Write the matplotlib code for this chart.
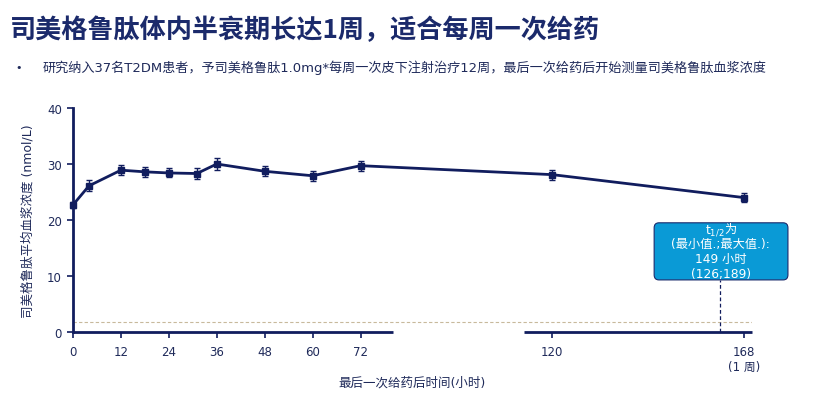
import matplotlib
matplotlib.use("Agg")
import matplotlib.pyplot as plt
from matplotlib.patches import FancyBboxPatch

plt.rcParams['font.family'] = ['DejaVu Sans', 'Noto Sans CJK SC']
plt.rcParams['mathtext.fontset'] = 'dejavusans'

# data
hours = [0, 4, 12, 18, 24, 31, 36, 48, 60, 72, 120, 168]
conc = [22.7, 26.1, 28.9, 28.6, 28.4, 28.3, 30.0, 28.7, 27.9, 29.7, 28.1, 24.0]
err = [0.6, 1.0, 0.9, 0.9, 0.8, 0.9, 1.0, 0.9, 0.9, 0.9, 0.9, 0.8]
xticks = [0, 12, 24, 36, 48, 60, 72, 120, 168]
xticklabels = ['0', '12', '24', '36', '48', '60', '72', '120', '168\n(1 周)']
yticks = [0, 10, 20, 30, 40]
lloq = 1.8
t_half_x = 162

navy = '#111d5e'
text_navy = '#1f2a5a'
box_blue = '#0a9ad6'

fig = plt.figure(figsize=(8.17, 4.06), dpi=100)
ax = fig.add_axes([73 / 817, 1 - 333 / 406, 679 / 817, 224 / 406])

# title and bullet line
fig.text(10 / 817, 1 - 31 / 406, '司美格鲁肽体内半衰期长达1周，适合每周一次给药',
         fontsize=18.8, fontweight='bold', color='#1b2a6b', va='center', ha='left',
         family=['Noto Sans CJK SC', 'DejaVu Sans'])
fig.text(15 / 817, 1 - 68 / 406, '•', fontsize=8, color=text_navy, va='center')
fig.text(43 / 817, 1 - 68 / 406,
         '研究纳入37名T2DM患者，予司美格鲁肽1.0mg*每周一次皮下注射治疗12周，最后一次给药后开始测量司美格鲁肽血浆浓度',
         fontsize=9.45, color=text_navy, va='center', ha='left')

# lower limit line and the half-life marker
ax.axhline(lloq, color='#c8b99c', lw=0.8, ls=(0, (3, 2)))
ax.plot([t_half_x, t_half_x], [0, 9.2], color=navy, lw=0.9, ls=(0, (3, 2)))

ax.errorbar(hours, conc, yerr=err, color=navy, lw=2.0, marker='s', ms=5,
            ecolor=navy, elinewidth=1.0, capsize=2.5, capthick=1.0, clip_on=False, zorder=5)

box = FancyBboxPatch((145.5, 9.3), 33.5, 10.2, boxstyle='round,pad=0,rounding_size=1.2',
                     mutation_aspect=10.2 / 33.5 * 2.5,
                     fc=box_blue, ec='#1a2a6c', lw=0.8, clip_on=False, zorder=6)
ax.add_patch(box)
# first line: subscript part in mathtext, CJK part as plain text
ax.text(163.0, 17.8, r't$_{1/2}$', color='white', fontsize=8.8,
        ha='right', va='baseline', zorder=7, clip_on=False)
ax.text(163.0, 17.8, '为', color='white', fontsize=8.8,
        ha='left', va='baseline', zorder=7, clip_on=False)
box_lines = ['(最小值.;最大值.):', '149 小时', '(126;189)']
for i, line in enumerate(box_lines):
    ax.text(162.2, 18.45 - (i + 1) * 2.68, line, color='white', fontsize=8.8,
            ha='center', va='center', zorder=7, clip_on=False)

ax.set_xlim(0, 170)
ax.set_ylim(0, 40)
ax.set_xticks(xticks)
ax.set_xticklabels(xticklabels)
ax.set_yticks(yticks)

for s in ['top', 'right', 'bottom']:
    ax.spines[s].set_visible(False)
ax.spines['left'].set_color(navy)
ax.spines['left'].set_linewidth(2)

# broken x axis line
axis_segments = [(0, 80), (113, 170)]
for a, b in axis_segments:
    ax.plot([a, b], [0, 0], color=navy, lw=2, clip_on=False, zorder=4, solid_capstyle='butt')

ax.tick_params(axis='both', colors=navy, labelcolor=text_navy, labelsize=8.5,
               direction='out', length=4.5, width=1.2)
ax.tick_params(axis='x', pad=5)

ax.set_xlabel('最后一次给药后时间(小时)', fontsize=9, color=text_navy, labelpad=2)
ax.set_ylabel('司美格鲁肽平均血浆浓度 (nmol/L)', fontsize=9, color=text_navy, labelpad=9)

fig.savefig('out.png', dpi=100)
